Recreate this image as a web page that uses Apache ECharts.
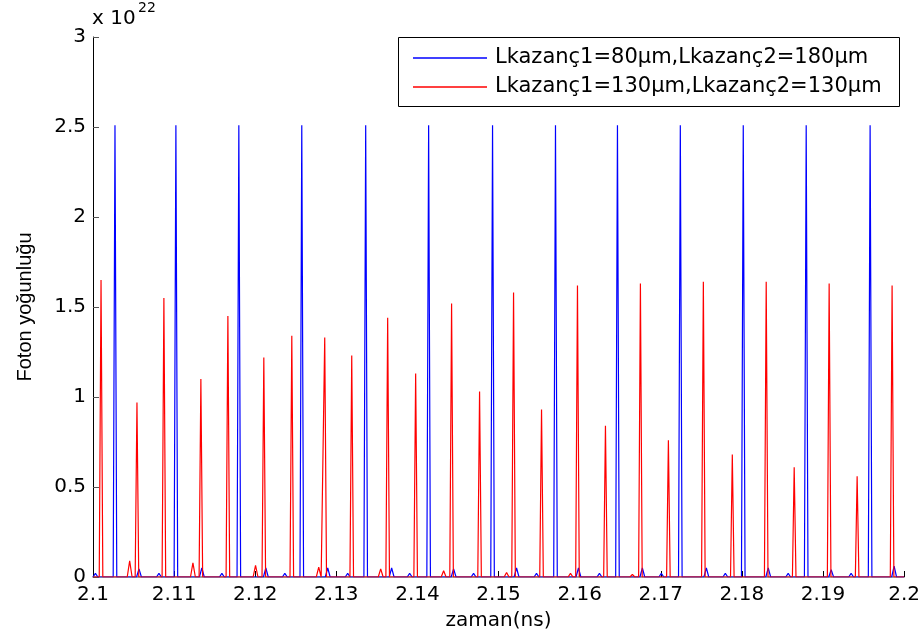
<!DOCTYPE html>
<html><head><meta charset="utf-8">
<script src="https://cdn.jsdelivr.net/npm/echarts@6/dist/echarts.min.js"></script>
<style>html,body{margin:0;padding:0;background:#fff}#c{width:923px;height:640px}</style>
</head><body><div id="c"></div>
<script>
// ---- data (time in ns, photon density in units of 1e22) ----
const seriesNames = ['Lkazanç1=80μm,Lkazanç2=180μm', 'Lkazanç1=130μm,Lkazanç2=130μm'];
const xTickLabels = ['2.1','2.11','2.12','2.13','2.14','2.15','2.16','2.17','2.18','2.19','2.2'];
const yTickLabels = ['0','0.5','1','1.5','2','2.5','3'];

// blue: tall pulses
const bluePeakT = [2.10271,2.11022,2.11798,2.12574,2.13362,2.14138,2.14926,2.15702,2.16466,2.17241,2.18017,2.18793,2.19581];
const bluePeakV = [2.51,2.51,2.51,2.51,2.51,2.51,2.51,2.51,2.51,2.51,2.51,2.51,2.51];
// blue: small bumps near baseline
const blueBumpT = [2.10030,2.10567,2.10813,2.11342,2.11589,2.12131,2.12365,2.12894,2.13140,2.13682,2.13904,2.14446,2.14692,2.15222,2.15468,2.15985,2.16244,2.16773,2.17007,2.17562,2.17796,2.18325,2.18571,2.19101,2.19347,2.19877];
const blueBumpV = [0.02,0.045,0.02,0.05,0.02,0.05,0.02,0.05,0.02,0.05,0.02,0.045,0.02,0.05,0.02,0.05,0.02,0.05,0.02,0.05,0.02,0.05,0.02,0.04,0.02,0.06];

// red: pulses
const redPeakT = [2.10099,2.10542,2.10874,2.11330,2.11663,2.12106,2.12451,2.12857,2.13190,2.13633,2.13978,2.14421,2.14766,2.15185,2.15530,2.15973,2.16318,2.16749,2.17094,2.17525,2.17882,2.18300,2.18645,2.19076,2.19421,2.19852];
const redPeakV = [1.65,0.97,1.55,1.10,1.45,1.22,1.34,1.33,1.23,1.44,1.13,1.52,1.03,1.58,0.93,1.62,0.84,1.63,0.76,1.64,0.68,1.64,0.61,1.63,0.56,1.62];
// red: small bumps
const redBumpT = [2.10452,2.11232,2.12004,2.12783,2.13547,2.14323,2.15099,2.15887,2.16650];
const redBumpV = [0.09,0.078,0.065,0.055,0.045,0.035,0.025,0.02,0.015];

// ---- build line data: each pulse rises from and falls back to the zero baseline ----
function buildLine(pT, pV, bT, bV) {
  const ev = [];
  pT.forEach((t, i) => ev.push({t, v: pV[i], hw: 0.00022}));
  bT.forEach((t, i) => ev.push({t, v: bV[i], hw: 0.0003}));
  ev.sort((a, b) => a.t - b.t);
  const d = [[2.1, 0]];
  ev.forEach(e => { d.push([e.t - e.hw, 0]); d.push([e.t, e.v]); d.push([e.t + e.hw, 0]); });
  d.push([2.2, 0]);
  return d;
}
const blueData = buildLine(bluePeakT, bluePeakV, blueBumpT, blueBumpV);
const redData = buildLine(redPeakT, redPeakV, redBumpT, redBumpV);

const chart = echarts.init(document.getElementById('c'), null, {renderer: 'canvas'});
const FONT = 'DejaVu Sans';
chart.setOption({
  animation: false,
  backgroundColor: '#ffffff',
  grid: {left: 93, right: 18, top: 37, bottom: 63, containLabel: false},
  xAxis: {
    type: 'value', min: 2.1, max: 2.2, interval: 0.01,
    name: 'zaman(ns)', nameLocation: 'middle', nameGap: 34,
    nameTextStyle: {fontFamily: FONT, fontSize: 20, color: '#000'},
    axisLine: {show: true, onZero: false, lineStyle: {color: '#808080', width: 1.5}},
    axisTick: {show: true, inside: true, length: 6, lineStyle: {color: '#000'}},
    axisLabel: {fontFamily: FONT, fontSize: 20, color: '#000', margin: 8,
      formatter: (v, i) => xTickLabels[i] !== undefined ? xTickLabels[i] : ''},
    splitLine: {show: false}
  },
  yAxis: {
    type: 'value', min: 0, max: 3, interval: 0.5,
    name: 'Foton yoğunluğu', nameLocation: 'middle', nameGap: 58, nameRotate: 90,
    nameTextStyle: {fontFamily: 'Liberation Sans', fontSize: 20, color: '#000'},
    axisLine: {show: true, lineStyle: {color: '#000', width: 1}},
    axisTick: {show: true, inside: true, length: 6, lineStyle: {color: '#555'}},
    axisLabel: {fontFamily: FONT, fontSize: 20, color: '#000', margin: 7,
      formatter: (v, i) => yTickLabels[i] !== undefined ? yTickLabels[i] : ''},
    splitLine: {show: false}
  },
  legend: {
    orient: 'vertical', left: 413, top: 47, padding: 0,
    icon: 'rect', itemWidth: 74, itemHeight: 1.5, itemGap: 7,
    textStyle: {fontFamily: FONT, fontSize: 21, color: '#000', padding: [0, 0, 0, 3], lineHeight: 22},
    data: seriesNames, z: 10
  },
  graphic: [
    {type: 'rect', shape: {x: 398.5, y: 37.5, width: 501, height: 69}, style: {fill: '#fff', stroke: '#000', lineWidth: 1}, z: 5},
    {type: 'text', left: 92, top: 9, style: {text: 'x 10', font: '20px "DejaVu Sans"', fill: '#000'}, z: 5},
    {type: 'text', left: 138, top: 1, style: {text: '22', font: '14px "DejaVu Sans"', fill: '#000'}, z: 5}
  ],
  series: [
    {name: seriesNames[0], type: 'line', data: blueData, symbol: 'none', showSymbol: false,
     lineStyle: {color: '#0000ff', width: 1.2}, itemStyle: {color: '#0000ff'}, sampling: null, clip: true},
    {name: seriesNames[1], type: 'line', data: redData, symbol: 'none', showSymbol: false,
     lineStyle: {color: '#ff0000', width: 1.2}, itemStyle: {color: '#ff0000'}, sampling: null, clip: true}
  ]
});
</script>
</body></html>
